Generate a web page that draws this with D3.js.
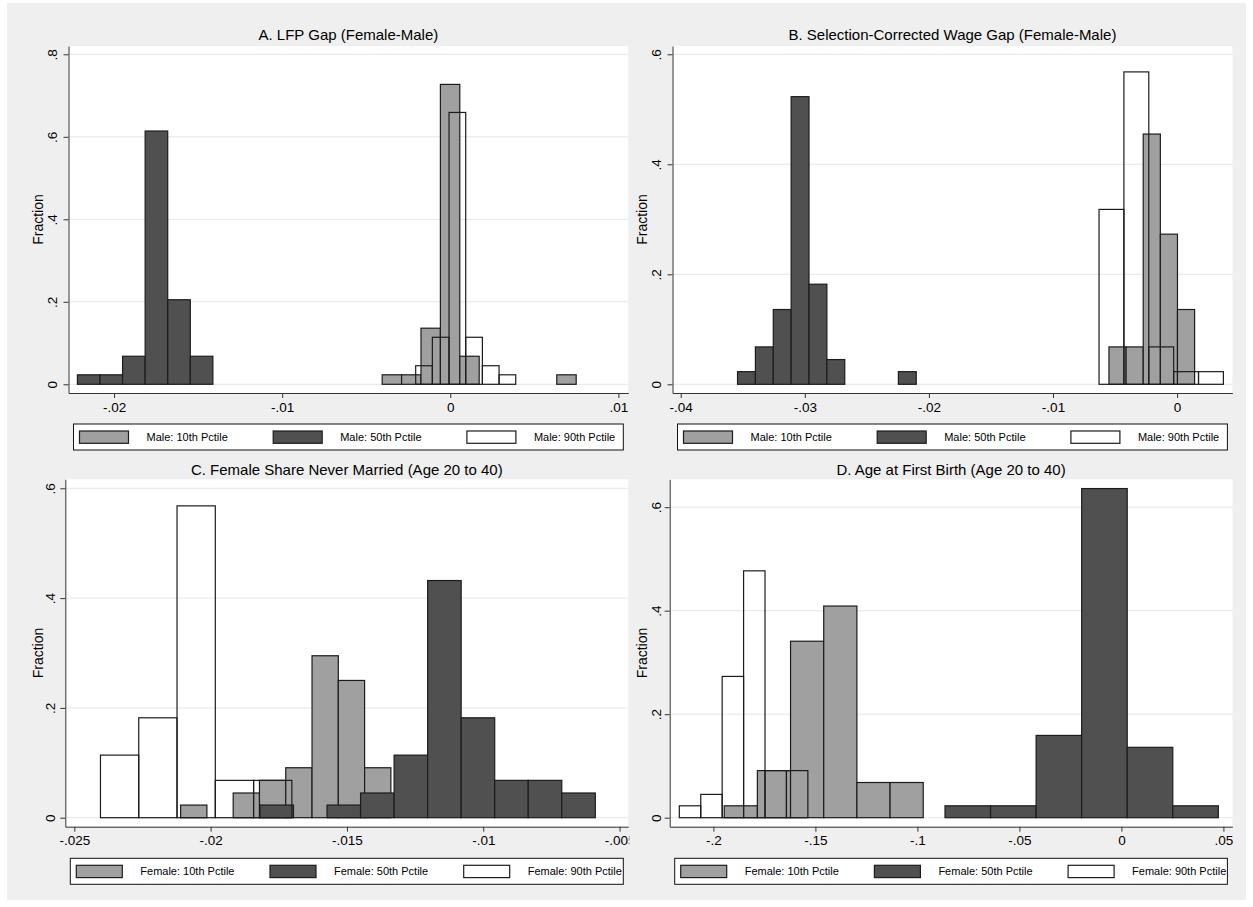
<!DOCTYPE html>
<html>
<head>
<meta charset="utf-8">
<script src="https://cdn.jsdelivr.net/npm/d3@7"></script>
<style>
  html, body { margin: 0; padding: 0; background: #ffffff; }
  svg { display: block; font-family: "Liberation Sans", Arial, Helvetica, sans-serif; }
</style>
</head>
<body>
<svg id="chart" width="1253" height="907"></svg>
<script>
// ---------------- Data: share of cities per histogram bin ----------------
const seriesLabels = ["10th Pctile", "50th Pctile", "90th Pctile"];

// A. LFP gap
const lfpTitle = "A. LFP Gap (Female-Male)";
const lfpXTicks = [-0.02, -0.01, 0, 0.01];
const lfpXTickLabels = ["-.02", "-.01", "0", ".01"];
const lfpYTicks = [0, 0.2, 0.4, 0.6, 0.8];
const lfpYTickLabels = ["0", ".2", ".4", ".6", ".8"];
const lfpXRange = [-0.02271, 0.01059];
const lfpYRange = [-0.0211, 0.8201];
const lfpP10 = { binStart: -0.00405, binWidth: 0.001154, fraction: [0.023, 0.023, 0.136, 0.727, 0.068, 0, 0, 0, 0, 0.023] };
const lfpP50 = { binStart: -0.02218, binWidth: 0.001343, fraction: [0.023, 0.023, 0.068, 0.614, 0.205, 0.068] };
const lfpP90 = { binStart: -0.002058, binWidth: 0.000992, fraction: [0.045, 0.114, 0.659, 0.114, 0.045, 0.023] };

// B. Selection-corrected wage gap
const wageTitle = "B. Selection-Corrected Wage Gap (Female-Male)";
const wageXTicks = [-0.04, -0.03, -0.02, -0.01, 0];
const wageXTickLabels = ["-.04", "-.03", "-.02", "-.01", "0"];
const wageYTicks = [0, 0.2, 0.4, 0.6];
const wageYTickLabels = ["0", ".2", ".4", ".6"];
const wageXRange = [-0.04066, 0.004456];
const wageYRange = [-0.0158, 0.6151];
const wageP10 = { binStart: -0.00549, binWidth: 0.00138, fraction: [0.068, 0.068, 0.455, 0.273, 0.136] };
const wageP50 = { binStart: -0.03542, binWidth: 0.00144, fraction: [0.023, 0.068, 0.136, 0.523, 0.182, 0.045, 0, 0, 0, 0.023] };
const wageP90 = { binStart: -0.00629, binWidth: 0.002004, fraction: [0.318, 0.568, 0.068, 0.023, 0.023] };

// C. Female share never married
const marTitle = "C. Female Share Never Married (Age 20 to 40)";
const marXTicks = [-0.025, -0.02, -0.015, -0.01, -0.005];
const marXTickLabels = ["-.025", "-.02", "-.015", "-.01", "-.005"];
const marYTicks = [0, 0.2, 0.4, 0.6];
const marYTickLabels = ["0", ".2", ".4", ".6"];
const marXRange = [-0.02533, -0.00468];
const marYRange = [-0.0164, 0.6164];
const marP10 = { binStart: -0.0211, binWidth: 0.000964, fraction: [0.023, 0, 0.045, 0.068, 0.091, 0.295, 0.25, 0.091] };
const marP50 = { binStart: -0.01819, binWidth: 0.00123, fraction: [0.023, 0, 0.023, 0.045, 0.114, 0.432, 0.182, 0.068, 0.068, 0.045] };
const marP90 = { binStart: -0.02404, binWidth: 0.001404, fraction: [0.114, 0.182, 0.568, 0.068, 0.068] };

// D. Age at first birth
const birthTitle = "D. Age at First Birth (Age 20 to 40)";
const birthXTicks = [-0.2, -0.15, -0.1, -0.05, 0, 0.05];
const birthXTickLabels = ["-.2", "-.15", "-.1", "-.05", "0", ".05"];
const birthYTicks = [0, 0.2, 0.4, 0.6];
const birthYTickLabels = ["0", ".2", ".4", ".6"];
const birthXRange = [-0.22142, 0.05441];
const birthYRange = [-0.0174, 0.6539];
const birthP10 = { binStart: -0.1947, binWidth: 0.01626, fraction: [0.023, 0.091, 0.341, 0.409, 0.068, 0.068] };
const birthP50 = { binStart: -0.08647, binWidth: 0.02233, fraction: [0.023, 0.023, 0.159, 0.636, 0.136, 0.023] };
const birthP90 = { binStart: -0.2167, binWidth: 0.0105, fraction: [0.023, 0.045, 0.273, 0.477, 0.091, 0.091] };

// ---------------- Panel assembly ----------------
const panels = [
  { title: lfpTitle, group: "Male", xTicks: lfpXTicks, xLabels: lfpXTickLabels, yTicks: lfpYTicks, yLabels: lfpYTickLabels,
    xRange: lfpXRange, yRange: lfpYRange, series: [lfpP10, lfpP50, lfpP90] },
  { title: wageTitle, group: "Male", xTicks: wageXTicks, xLabels: wageXTickLabels, yTicks: wageYTicks, yLabels: wageYTickLabels,
    xRange: wageXRange, yRange: wageYRange, series: [wageP10, wageP50, wageP90] },
  { title: marTitle, group: "Female", xTicks: marXTicks, xLabels: marXTickLabels, yTicks: marYTicks, yLabels: marYTickLabels,
    xRange: marXRange, yRange: marYRange, series: [marP10, marP50, marP90] },
  { title: birthTitle, group: "Female", xTicks: birthXTicks, xLabels: birthXTickLabels, yTicks: birthYTicks, yLabels: birthYTickLabels,
    xRange: birthXRange, yRange: birthYRange, series: [birthP10, birthP50, birthP90] }
];

// Plot-region geometry of each panel (pixels)
const frames = [
  { left: 68.5,  top: 46,    right: 628.3,  bottom: 393,   titleY: 35,    legendTop: 424,   keyW: 49, yLabelOff: 16,   yTitleOff: 30 },
  { left: 672.5, top: 46,    right: 1232.4, bottom: 393,   titleY: 35,    legendTop: 424,   keyW: 49, yLabelOff: 16,   yTitleOff: 30 },
  { left: 65.3,  top: 479.3, right: 628.3,  bottom: 826.7, titleY: 469.3, legendTop: 858.3, keyW: 46, yLabelOff: 15,   yTitleOff: 27.5 },
  { left: 669.7, top: 479.3, right: 1232.4, bottom: 826.7, titleY: 469.3, legendTop: 858.3, keyW: 46, yLabelOff: 13.5, yTitleOff: 27.5 }
];

const fills = ["#a0a0a0", "#505050", "none"];
const keyFills = ["#a0a0a0", "#505050", "#ffffff"];
const barStroke = "#1c1c1c";
const axisColor = "#333333";
const gridColor = "#e6e6e6";

const svg = d3.select("#chart");

// Graph region background
svg.append("rect")
  .attr("x", 7).attr("y", 3).attr("width", 1239).attr("height", 897)
  .attr("fill", "#efefef");

panels.forEach((p, pi) => {
  const f = frames[pi];
  const g = svg.append("g");

  const clipId = "clip" + pi;
  svg.append("clipPath").attr("id", clipId)
    .append("rect").attr("x", f.left - 80).attr("y", f.top - 40)
    .attr("width", f.right + 1 - (f.left - 80)).attr("height", f.bottom - f.top + 120);

  const x = d3.scaleLinear().domain(p.xRange).range([f.left, f.right]);
  const y = d3.scaleLinear().domain(p.yRange).range([f.bottom, f.top]);

  // plot region
  g.append("rect")
    .attr("x", f.left).attr("y", f.top)
    .attr("width", f.right - f.left).attr("height", f.bottom - f.top)
    .attr("fill", "#ffffff");

  // horizontal grid
  g.append("g").selectAll("line").data(p.yTicks).join("line")
    .attr("x1", f.left).attr("x2", f.right)
    .attr("y1", d => y(d)).attr("y2", d => y(d))
    .attr("stroke", gridColor).attr("stroke-width", 1);

  // histogram bars: 10th, then 50th, then 90th as outlines on top
  p.series.forEach((s, si) => {
    const bins = s.fraction.map((v, i) => ({ x0: s.binStart + i * s.binWidth, x1: s.binStart + (i + 1) * s.binWidth, v }))
      .filter(b => b.v > 0);
    g.append("g").selectAll("rect").data(bins).join("rect")
      .attr("x", b => x(b.x0))
      .attr("width", b => x(b.x1) - x(b.x0))
      .attr("y", b => y(b.v))
      .attr("height", b => y(0) - y(b.v))
      .attr("fill", fills[si])
      .attr("stroke", barStroke)
      .attr("stroke-width", 1.2);
  });

  // axes
  const axesG = g.append("g").attr("clip-path", `url(#${clipId})`);

  const xAxis = axesG.append("g")
    .attr("transform", `translate(0,${f.bottom})`)
    .call(d3.axisBottom(x).tickValues(p.xTicks).tickFormat((d, i) => p.xLabels[i]).tickSize(5).tickSizeOuter(0));
  xAxis.select(".domain").attr("stroke", axisColor);
  xAxis.selectAll(".tick line").attr("stroke", axisColor);
  xAxis.selectAll(".tick text")
    .attr("y", 9).attr("font-size", 13.5).attr("fill", "#000")
    .attr("font-family", "Liberation Sans, Arial, sans-serif");

  const yAxis = axesG.append("g")
    .attr("transform", `translate(${f.left},0)`)
    .call(d3.axisLeft(y).tickValues(p.yTicks).tickFormat((d, i) => p.yLabels[i]).tickSize(5).tickSizeOuter(0));
  yAxis.select(".domain").attr("stroke", axisColor);
  yAxis.selectAll(".tick line").attr("stroke", axisColor);
  yAxis.selectAll(".tick text")
    .attr("x", null).attr("dy", "0.35em")
    .attr("text-anchor", "middle")
    .attr("transform", `translate(${-f.yLabelOff},0) rotate(-90)`)
    .attr("font-size", 13.5).attr("fill", "#000")
    .attr("font-family", "Liberation Sans, Arial, sans-serif");

  // y axis title
  g.append("text")
    .attr("transform", `translate(${f.left - f.yTitleOff},${(f.top + f.bottom) / 2}) rotate(-90)`)
    .attr("dy", "0.35em")
    .attr("text-anchor", "middle")
    .attr("font-size", 14).attr("fill", "#000")
    .text("Fraction");

  // panel title
  g.append("text")
    .attr("x", (f.left + f.right) / 2).attr("y", f.titleY)
    .attr("dy", "0.35em")
    .attr("text-anchor", "middle")
    .attr("font-size", 15).attr("fill", "#000")
    .text(p.title);

  // legend
  const bx0 = f.left + 5, bx1 = f.right - 5;
  const lg = g.append("g");
  lg.append("rect")
    .attr("x", bx0).attr("y", f.legendTop)
    .attr("width", bx1 - bx0).attr("height", 26)
    .attr("fill", "#ffffff").attr("stroke", "#111").attr("stroke-width", 1);
  seriesLabels.forEach((lab, j) => {
    const kx = bx0 + 6 + j * 193.7;
    lg.append("rect")
      .attr("x", kx).attr("y", f.legendTop + 7)
      .attr("width", f.keyW).attr("height", 12.3)
      .attr("fill", keyFills[j]).attr("stroke", barStroke).attr("stroke-width", 1.2);
    lg.append("text")
      .attr("x", kx + f.keyW + 18).attr("y", f.legendTop + 13.2)
      .attr("dy", "0.35em")
      .attr("font-size", 11).attr("fill", "#000")
      .text(`${p.group}: ${lab}`);
  });
});
</script>
</body>
</html>
